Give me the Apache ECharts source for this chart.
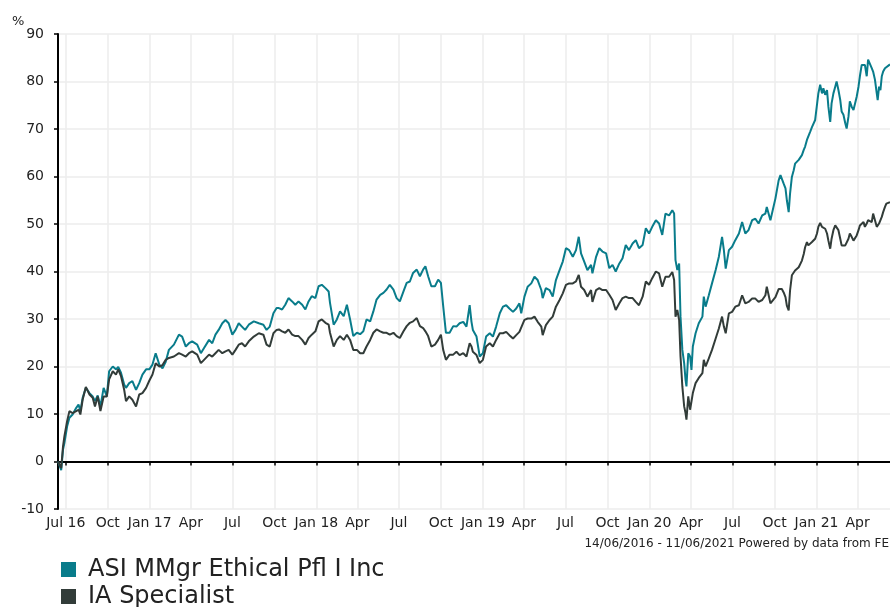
<!DOCTYPE html>
<html>
<head>
<meta charset="utf-8" />
<style>html,body{margin:0;padding:0;background:#fff;}</style>
</head>
<body>
<div id="main" style="width: 890px;height:607px;"></div>

<script type="text/javascript" src="https://cdn.jsdelivr.net/npm/echarts@6/dist/echarts.min.js"></script>
<script type="text/javascript">
  // sample dates and cumulative % growth
  var dates = [
    '2016-06-14','2016-06-21','2016-06-25','2016-06-28','2016-07-04','2016-07-09','2016-07-16','2016-07-24','2016-07-29','2016-08-02',
    '2016-08-07','2016-08-14','2016-08-22','2016-08-29','2016-09-03','2016-09-09','2016-09-15','2016-09-22','2016-09-29','2016-10-04',
    '2016-10-12','2016-10-19','2016-10-24','2016-10-30','2016-11-06','2016-11-10','2016-11-17','2016-11-24','2016-12-02','2016-12-09',
    '2016-12-16','2016-12-24','2016-12-31','2017-01-07','2017-01-14','2017-01-22','2017-01-29','2017-02-05','2017-02-12','2017-02-23',
    '2017-03-06','2017-03-13','2017-03-21','2017-03-28','2017-04-04','2017-04-15','2017-04-23','2017-04-30','2017-05-11','2017-05-18',
    '2017-05-25','2017-06-01','2017-06-09','2017-06-16','2017-06-23','2017-07-01','2017-07-08','2017-07-15','2017-07-22','2017-07-29',
    '2017-08-06','2017-08-17','2017-08-28','2017-09-07','2017-09-14','2017-09-21','2017-09-29','2017-10-06','2017-10-11','2017-10-18',
    '2017-10-25','2017-11-01','2017-11-09','2017-11-16','2017-11-23','2017-12-01','2017-12-08','2017-12-15','2017-12-22','2017-12-30',
    '2018-01-06','2018-01-13','2018-01-21','2018-01-28','2018-01-31','2018-02-08','2018-02-15','2018-02-22','2018-03-02','2018-03-09',
    '2018-03-16','2018-03-23','2018-03-31','2018-04-07','2018-04-14','2018-04-21','2018-04-29','2018-05-06','2018-05-13','2018-05-21',
    '2018-05-28','2018-06-04','2018-06-11','2018-06-19','2018-06-26','2018-07-03','2018-07-11','2018-07-18','2018-07-25','2018-08-01',
    '2018-08-09','2018-08-16','2018-08-23','2018-08-28','2018-09-03','2018-09-10','2018-09-18','2018-09-25','2018-10-01','2018-10-06',
    '2018-10-12','2018-10-20','2018-10-28','2018-11-04','2018-11-11','2018-11-19','2018-11-26','2018-12-03','2018-12-07','2018-12-10',
    '2018-12-18','2018-12-25','2019-01-01','2019-01-08','2019-01-16','2019-01-23','2019-01-30','2019-02-07','2019-02-14','2019-02-21',
    '2019-02-28','2019-03-08','2019-03-15','2019-03-22','2019-03-26','2019-04-02','2019-04-09','2019-04-17','2019-04-24','2019-05-01',
    '2019-05-09','2019-05-12','2019-05-19','2019-05-27','2019-06-03','2019-06-10','2019-06-18','2019-06-25','2019-07-02','2019-07-09',
    '2019-07-17','2019-07-24','2019-07-30','2019-08-04','2019-08-11','2019-08-18','2019-08-26','2019-08-29','2019-09-06','2019-09-13',
    '2019-09-20','2019-09-28','2019-10-05','2019-10-12','2019-10-19','2019-10-27','2019-11-03','2019-11-10','2019-11-17','2019-11-25',
    '2019-12-02','2019-12-09','2019-12-17','2019-12-24','2019-12-31','2020-01-07','2020-01-15','2020-01-22','2020-01-29','2020-02-05',
    '2020-02-13','2020-02-20','2020-02-24','2020-02-27','2020-03-02','2020-03-06','2020-03-09','2020-03-13','2020-03-17','2020-03-20',
    '2020-03-22','2020-03-26','2020-03-30','2020-04-02','2020-04-05','2020-04-11','2020-04-18','2020-04-26','2020-04-29','2020-05-03',
    '2020-05-10','2020-05-17','2020-05-25','2020-06-01','2020-06-08','2020-06-12','2020-06-16','2020-06-23','2020-06-30','2020-07-07',
    '2020-07-15','2020-07-22','2020-07-29','2020-08-05','2020-08-13','2020-08-20','2020-08-27','2020-09-04','2020-09-11','2020-09-14',
    '2020-09-22','2020-09-25','2020-10-03','2020-10-10','2020-10-14','2020-10-17','2020-10-21','2020-10-25','2020-10-28','2020-11-01',
    '2020-11-04','2020-11-08','2020-11-12','2020-11-15','2020-11-19','2020-11-23','2020-11-30','2020-12-04','2020-12-07','2020-12-11',
    '2020-12-14','2020-12-18','2020-12-22','2020-12-25','2020-12-29','2021-01-02','2021-01-05','2021-01-09','2021-01-13','2021-01-16',
    '2021-01-20','2021-01-24','2021-01-27','2021-01-31','2021-02-03','2021-02-07','2021-02-11','2021-02-14','2021-02-18','2021-02-22',
    '2021-02-25','2021-03-01','2021-03-05','2021-03-08','2021-03-12','2021-03-15','2021-03-19','2021-03-23','2021-03-26','2021-03-30',
    '2021-04-03','2021-04-06','2021-04-10','2021-04-14','2021-04-17','2021-04-21','2021-04-24','2021-04-28','2021-05-02','2021-05-05',
    '2021-05-09','2021-05-13','2021-05-15','2021-05-18','2021-05-21','2021-05-24','2021-05-27','2021-05-31','2021-06-03','2021-06-11'
  ];

  var fundValues = [
    0, -1.8, 2.5, 3.9, 7.4, 9.2, 9.9, 11.3, 12.0, 10.6,
    13.4, 15.5, 14.4, 13.7, 12.7, 13.9, 11.6, 15.5, 13.7, 19.0,
    20.0, 19.4, 19.9, 18.7, 16.2, 15.5, 16.5, 16.9, 15.1, 16.5,
    18.3, 19.4, 19.4, 20.4, 22.8, 20.4, 19.6, 21.0, 23.5, 24.6,
    26.7, 26.3, 24.2, 24.9, 25.3, 24.6, 22.8, 23.9, 25.6, 24.9,
    26.7, 27.7, 29.1, 29.8, 29.1, 26.7, 27.7, 29.1, 28.4, 27.7,
    28.8, 29.5, 29.1, 28.8, 27.7, 28.4, 31.2, 32.3, 32.3, 32.0,
    33.0, 34.4, 33.7, 33.0, 33.7, 33.0, 32.0, 33.7, 34.8, 34.4,
    36.9, 37.2, 36.5, 35.8, 33.4, 28.8, 29.9, 31.6, 30.6, 33.0,
    29.9, 26.4, 27.1, 26.8, 27.4, 29.9, 29.5, 31.6, 34.1, 35.1,
    35.5, 36.2, 37.2, 36.2, 34.4, 33.7, 35.8, 37.6, 37.9, 39.7,
    40.4, 39.0, 40.4, 41.1, 39.0, 36.9, 36.9, 38.3, 37.6, 32.7,
    27.1, 27.1, 28.5, 28.4, 29.1, 29.4, 28.4, 32.9, 29.4, 27.7,
    26.3, 22.1, 22.8, 26.3, 27.0, 26.3, 28.4, 31.2, 32.6, 32.9,
    32.2, 31.5, 32.2, 33.3, 31.2, 34.7, 36.8, 37.5, 38.9, 38.2,
    36.1, 34.4, 36.5, 36.1, 34.7, 38.2, 40.3, 42.1, 44.9, 44.5,
    43.1, 44.5, 47.3, 43.8, 42.1, 40.3, 41.4, 39.6, 43.1, 44.9,
    44.2, 43.8, 40.7, 41.4, 40.0, 41.7, 42.8, 45.6, 44.5, 45.9,
    46.6, 44.9, 45.6, 49.1, 48.0, 49.4, 50.8, 50.1, 47.7, 52.2,
    51.8, 52.9, 52.2, 42.4, 40.3, 41.7, 30.5, 23.5, 20.7, 17.2,
    15.8, 22.8, 22.1, 19.3, 24.2, 27.0, 29.1, 30.5, 34.7, 32.6,
    35.0, 37.5, 40.3, 43.1, 47.3, 44.5, 40.6, 44.5, 45.2, 46.6,
    48.0, 50.4, 48.0, 48.7, 50.8, 51.1, 50.1, 51.8, 52.2, 53.6,
    50.8, 50.8, 55.4, 59.2, 60.3, 59.9, 58.5, 57.5, 55.0, 52.5,
    56.4, 59.9, 61.3, 62.7, 62.4, 63.5, 64.5, 65.6, 66.3, 67.7,
    67.3, 69.4, 70.4, 70.8, 71.9, 72.3, 77.5, 79.3, 77.5, 78.6,
    77.2, 78.2, 74.7, 71.5, 75.4, 77.5, 78.9, 80.0, 78.2, 76.1,
    73.7, 73.0, 71.2, 70.1, 72.6, 75.8, 74.7, 74.0, 74.4, 76.8,
    78.9, 81.1, 83.5, 83.2, 83.5, 81.1, 84.6, 84.2, 82.8, 82.1,
    80.4, 77.5, 76.1, 78.9, 78.2, 81.1, 82.1, 82.8, 83.2, 83.6
  ];

  var sectorValues = [
    0, -1.4, 3.2, 5.3, 8.5, 10.6, 10.2, 10.6, 10.9, 9.9,
    13.0, 15.7, 14.1, 13.4, 11.6, 13.7, 10.6, 13.7, 13.7, 17.3,
    19.0, 18.3, 19.4, 18.0, 15.1, 12.7, 13.7, 13.0, 11.6, 14.1,
    14.4, 15.5, 17.0, 18.3, 20.7, 20.0, 20.3, 21.4, 21.8, 22.1,
    22.8, 22.5, 22.1, 22.8, 23.2, 22.5, 20.7, 21.4, 22.5, 22.1,
    22.8, 23.5, 22.8, 23.2, 23.5, 22.5, 23.5, 24.6, 24.9, 24.2,
    25.3, 26.3, 27.0, 26.7, 24.6, 24.2, 27.0, 27.7, 27.8, 27.4,
    27.1, 27.8, 26.7, 26.4, 26.4, 25.6, 24.6, 26.0, 26.7, 27.4,
    29.5, 29.9, 29.2, 28.8, 27.1, 24.2, 25.6, 26.4, 25.6, 26.7,
    25.6, 23.5, 23.5, 22.8, 22.8, 24.2, 25.6, 27.1, 27.8, 27.4,
    27.1, 27.1, 26.7, 27.1, 26.4, 26.0, 27.4, 28.5, 29.2, 29.5,
    30.2, 28.5, 28.1, 27.4, 26.4, 24.2, 24.6, 25.6, 26.7, 23.5,
    21.4, 22.5, 22.5, 23.1, 22.4, 22.8, 22.1, 24.9, 24.2, 23.1,
    22.4, 20.7, 21.4, 24.2, 24.9, 24.2, 25.6, 27.0, 27.0, 27.3,
    26.6, 25.9, 26.6, 27.3, 27.0, 29.8, 30.1, 30.1, 30.5, 29.4,
    28.4, 26.6, 28.7, 29.8, 30.5, 32.6, 34.0, 35.4, 37.2, 37.5,
    37.5, 37.9, 39.3, 36.8, 36.1, 34.7, 36.1, 33.6, 36.1, 36.5,
    36.1, 36.1, 35.1, 34.0, 31.9, 33.3, 34.4, 34.7, 34.4, 34.4,
    33.6, 32.9, 34.7, 37.9, 37.2, 38.6, 40.0, 39.6, 36.8, 38.9,
    38.9, 39.9, 38.2, 30.5, 31.9, 29.8, 22.1, 15.8, 11.6, 10.2,
    8.8, 13.7, 10.9, 10.9, 14.4, 16.5, 17.6, 18.6, 21.4, 20.0,
    21.7, 23.5, 25.9, 28.0, 30.5, 28.4, 27.0, 31.2, 31.5, 32.6,
    32.9, 35.0, 33.3, 33.6, 34.3, 34.3, 33.6, 34.0, 35.0, 36.8,
    33.3, 33.2, 34.6, 36.3, 36.3, 36.3, 35.6, 34.6, 32.8, 31.8,
    36.0, 39.2, 39.5, 40.2, 40.2, 40.9, 42.3, 43.7, 45.1, 46.2,
    45.5, 45.8, 46.2, 46.5, 46.9, 48.0, 49.4, 50.2, 49.4, 49.7,
    49.0, 48.0, 46.5, 44.8, 46.9, 48.7, 49.7, 50.1, 48.7, 46.9,
    45.5, 45.8, 45.5, 45.8, 46.9, 48.0, 47.3, 46.5, 46.9, 47.6,
    48.7, 49.7, 50.1, 50.4, 49.4, 50.1, 50.8, 51.1, 50.4, 52.2,
    51.8, 49.4, 49.8, 50.1, 50.4, 51.5, 52.5, 53.6, 54.3, 54.6
  ];

  var tickDates = [
    '2016-07-01','2016-10-01','2017-01-01','2017-04-01','2017-07-01','2017-10-01','2018-01-01','2018-04-01','2018-07-01','2018-10-01',
    '2019-01-01','2019-04-01','2019-07-01','2019-10-01','2020-01-01','2020-04-01','2020-07-01','2020-10-01','2021-01-01','2021-04-01'
  ];
  var tickLabels = [
    'Jul 16','Oct','Jan 17','Apr','Jul','Oct','Jan 18','Apr','Jul','Oct',
    'Jan 19','Apr','Jul','Oct','Jan 20','Apr','Jul','Oct','Jan 21','Apr'
  ];
  var yTicks = { min: -10, max: 90, step: 10 };

  // day -> timestamp (local time)
  function ts(s) {
    var p = s.split('-');
    return new Date(+p[0], +p[1] - 1, +p[2]).getTime();
  }

  var tickTimes = tickDates.map(ts);
  var fundData = dates.map(function (d, i) { return [ts(d), fundValues[i]]; });
  var sectorData = dates.map(function (d, i) { return [ts(d), sectorValues[i]]; });

  var myChart = echarts.init(document.getElementById('main'));

  var option = {
    animation: false,
    backgroundColor: '#ffffff',
    textStyle: { fontFamily: 'DejaVu Sans' },
    title: [
      {
        text: '%',
        left: 7, top: 10,
        textStyle: { fontSize: 13, fontWeight: 'normal', color: '#222', fontFamily: 'DejaVu Sans' }
      },
      {
        text: '14/06/2016 - 11/06/2021 Powered by data from FE',
        right: 1, top: 538, padding: 0,
        textStyle: { fontSize: 12, fontWeight: 'normal', color: '#222', fontFamily: 'DejaVu Sans' }
      }
    ],
    legend: {
      orient: 'vertical',
      left: 61, top: 556,
      height: 80,
      padding: 0,
      itemGap: 0,
      itemWidth: 15, itemHeight: 15,
      icon: 'rect',
      textStyle: { fontSize: 24, color: '#222', lineHeight: 27, padding: [0, 0, 0, 7], fontFamily: 'DejaVu Sans' },
      data: ['ASI MMgr Ethical Pfl I Inc', 'IA Specialist']
    },
    grid: { left: 58, right: -3, top: 34, bottom: 98, containLabel: false },
    xAxis: {
      type: 'value',
      min: ts('2016-06-14'),
      max: ts('2021-06-11'),
      axisLine: { show: true, lineStyle: { color: '#000', width: 2 } },
      axisTick: { show: true, length: 4, lineStyle: { color: '#000', width: 1.5 }, customValues: tickTimes },
      axisLabel: {
        customValues: tickTimes,
        margin: 7,
        fontSize: 14,
        color: '#222',
        fontFamily: 'DejaVu Sans',
        formatter: function (value) {
          var best = 0;
          for (var i = 1; i < tickTimes.length; i++) {
            if (Math.abs(tickTimes[i] - value) < Math.abs(tickTimes[best] - value)) best = i;
          }
          return tickLabels[best];
        }
      },
      splitLine: { show: true, lineStyle: { color: '#ececec', width: 1.5 } }
    },
    yAxis: {
      type: 'value',
      min: yTicks.min, max: yTicks.max, interval: yTicks.step,
      axisLine: { show: true, lineStyle: { color: '#000', width: 2 } },
      axisTick: { show: true, length: 4, lineStyle: { color: '#000', width: 1.5 } },
      axisLabel: { margin: 14, fontSize: 14, color: '#222', fontFamily: 'DejaVu Sans' },
      splitLine: { show: true, lineStyle: { color: '#ececec', width: 1.5 } }
    },
    series: [
      {
        name: 'ASI MMgr Ethical Pfl I Inc',
        type: 'line',
        data: fundData,
        showSymbol: false,
        color: '#097c8b',
        itemStyle: { color: '#097c8b' },
        lineStyle: { color: '#097c8b', width: 2 },
        z: 2
      },
      {
        name: 'IA Specialist',
        type: 'line',
        data: sectorData,
        showSymbol: false,
        color: '#323c39',
        itemStyle: { color: '#323c39' },
        lineStyle: { color: '#323c39', width: 2 },
        z: 3
      }
    ]
  };

  myChart.setOption(option);
</script>
</body>
</html>
